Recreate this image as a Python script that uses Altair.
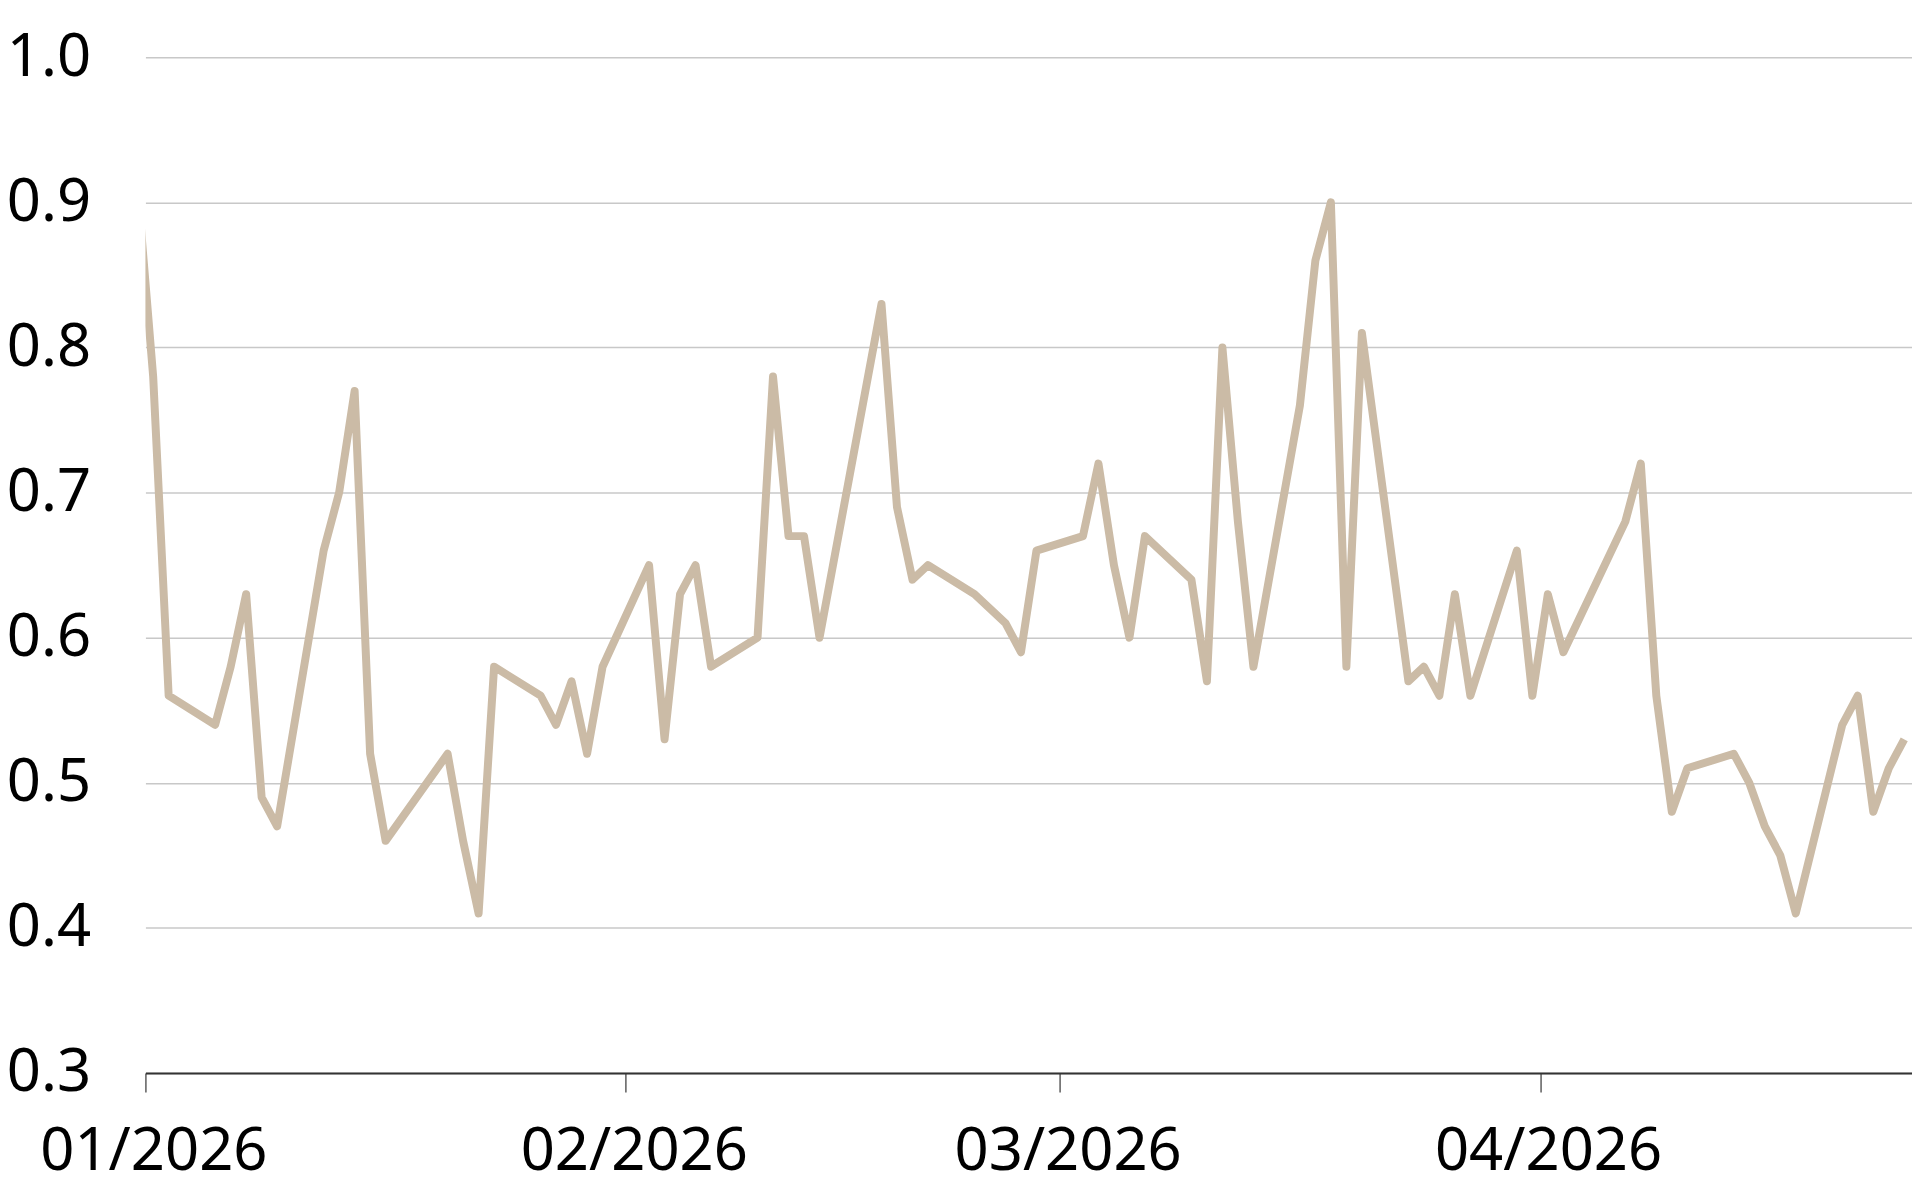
import altair as alt
import pandas as pd

dates = [
    "2025-12-31", "2026-01-01", "2026-01-02",
    "2026-01-05", "2026-01-06", "2026-01-07", "2026-01-08", "2026-01-09",
    "2026-01-12", "2026-01-13", "2026-01-14", "2026-01-15", "2026-01-16",
    "2026-01-20", "2026-01-21", "2026-01-22", "2026-01-23",
    "2026-01-26", "2026-01-27", "2026-01-28", "2026-01-29", "2026-01-30",
    "2026-02-02", "2026-02-03", "2026-02-04", "2026-02-05", "2026-02-06",
    "2026-02-09", "2026-02-10", "2026-02-11", "2026-02-12", "2026-02-13",
    "2026-02-17", "2026-02-18", "2026-02-19", "2026-02-20",
    "2026-02-23", "2026-02-24", "2026-02-25", "2026-02-26", "2026-02-27",
    "2026-03-02", "2026-03-03", "2026-03-04", "2026-03-05", "2026-03-06",
    "2026-03-09", "2026-03-10", "2026-03-11", "2026-03-12", "2026-03-13",
    "2026-03-16", "2026-03-17", "2026-03-18", "2026-03-19", "2026-03-20",
    "2026-03-23", "2026-03-24", "2026-03-25", "2026-03-26", "2026-03-27",
    "2026-03-30", "2026-03-31", "2026-04-01", "2026-04-02",
    "2026-04-06", "2026-04-07", "2026-04-08", "2026-04-09", "2026-04-10",
    "2026-04-13", "2026-04-14", "2026-04-15", "2026-04-16", "2026-04-17",
    "2026-04-20", "2026-04-21", "2026-04-22", "2026-04-23", "2026-04-24",
]

values = [
    0.91, 0.78, 0.56,
    0.54, 0.58, 0.63, 0.49, 0.47,
    0.66, 0.70, 0.77, 0.52, 0.46,
    0.52, 0.46, 0.41, 0.58,
    0.56, 0.54, 0.57, 0.52, 0.58,
    0.65, 0.53, 0.63, 0.65, 0.58,
    0.60, 0.78, 0.67, 0.67, 0.60,
    0.83, 0.69, 0.64, 0.65,
    0.63, 0.62, 0.61, 0.59, 0.66,
    0.67, 0.72, 0.65, 0.60, 0.67,
    0.64, 0.57, 0.80, 0.68, 0.58,
    0.76, 0.86, 0.90, 0.58, 0.81,
    0.57, 0.58, 0.56, 0.63, 0.56,
    0.66, 0.56, 0.63, 0.59,
    0.68, 0.72, 0.56, 0.48, 0.51,
    0.52, 0.50, 0.47, 0.45, 0.41,
    0.54, 0.56, 0.48, 0.51, 0.53,
]

y_ticks = [0.3, 0.4, 0.5, 0.6, 0.7, 0.8, 0.9, 1.0]
x_tick_months = [1, 2, 3, 4]

df = pd.DataFrame({
    "date": pd.to_datetime(dates) + pd.Timedelta(hours=12),
    "value": values,
})

x_ticks = [alt.DateTime(year=2026, month=m, date=1) for m in x_tick_months]

FONT = "Noto Sans"

chart = alt.Chart(df).mark_line(
    color="#CBBBA6", strokeWidth=8, clip=True, strokeJoin="round"
).encode(
    x=alt.X(
        "date:T",
        scale=alt.Scale(domain=[alt.DateTime(year=2026, month=1, date=1),
                                alt.DateTime(year=2026, month=4, date=25)]),
        axis=alt.Axis(
            values=x_ticks, format="%m/%Y", title=None, grid=False,
            labelFontSize=60, labelFont=FONT, labelColor="#000000",
            labelLimit=0, labelOffset=8,
            tickSize=19, tickColor="#444444", tickWidth=1.3,
            domainColor="#333333", domainWidth=1.8,
            labelPadding=31, labelAlign="center", labelFlush=False,
            labelOverlap=False,
        ),
    ),
    y=alt.Y(
        "value:Q",
        scale=alt.Scale(domain=[0.3, 1.0], nice=False, zero=False),
        axis=alt.Axis(
            values=y_ticks, format=".1f", title=None, grid=True,
            gridColor="#c8c8c8", gridWidth=1.5, domain=False, ticks=False,
            labelFontSize=60, labelFont=FONT, labelColor="#000000",
            labelLimit=0, labelPadding=55,
        ),
    ),
).properties(
    width=1774,
    height=1020,
    autosize=alt.AutoSizeParams(type="none"),
    padding={"left": 138, "top": 47, "right": 0, "bottom": 117},
).configure_view(stroke=None)

chart.save("out.html", embed_options={"renderer": "svg", "actions": False})
